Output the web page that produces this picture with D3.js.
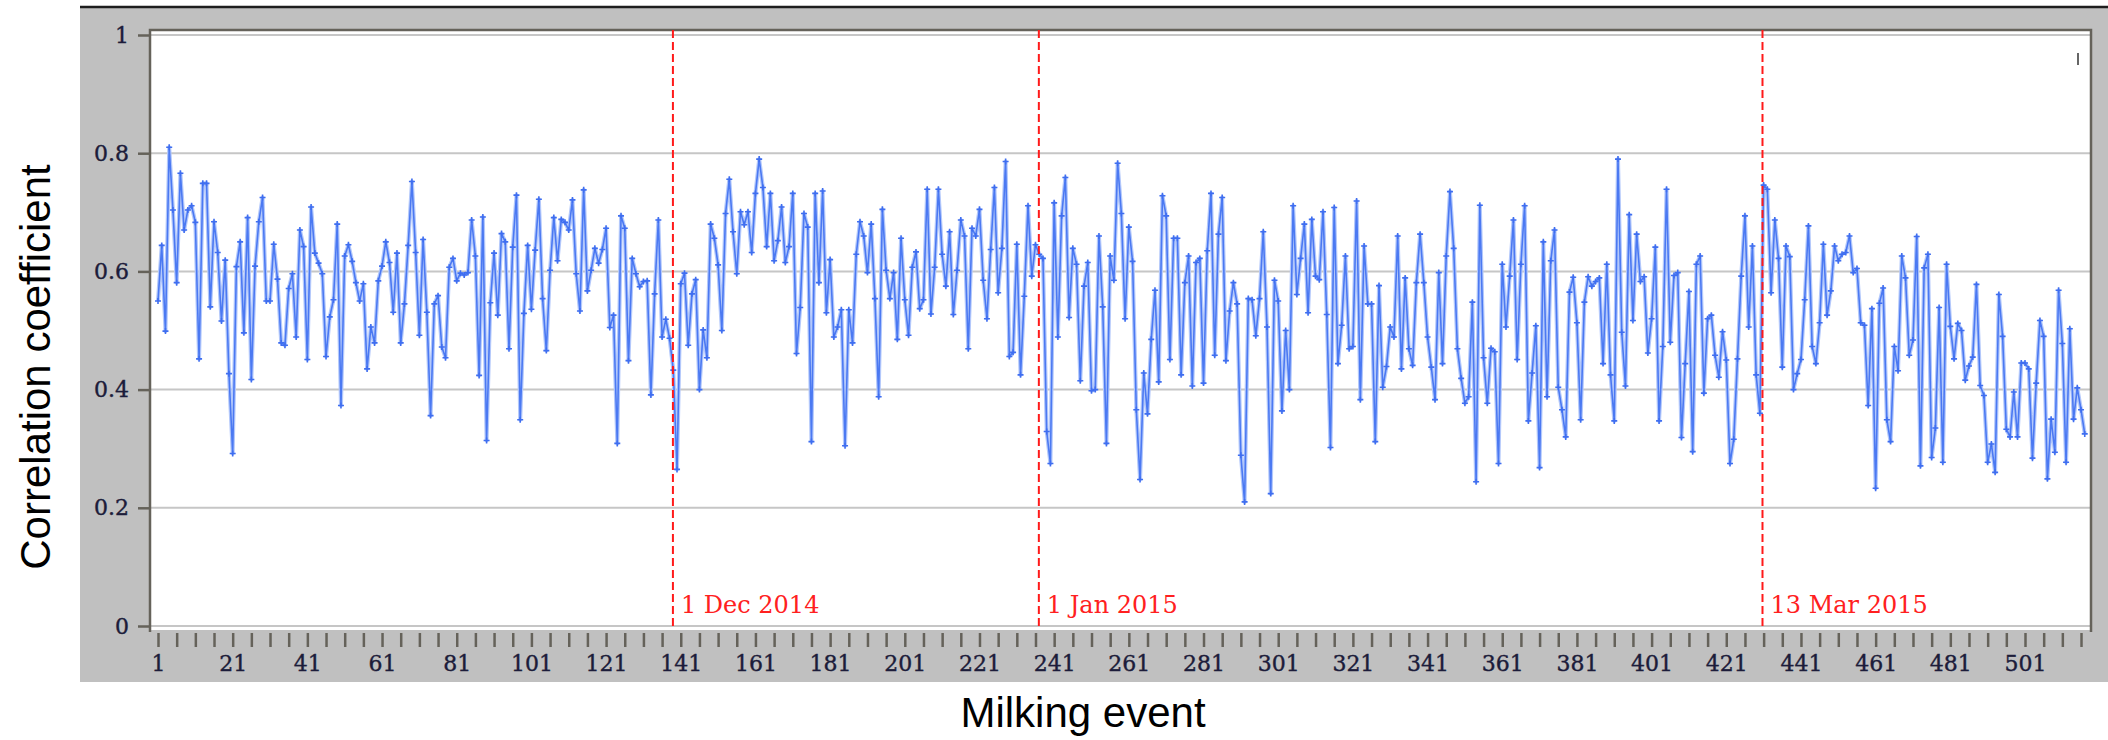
<!DOCTYPE html>
<meta charset="utf-8">
<style>
body { margin: 0; background: #fff; }
svg { display: block; }
.grid line { stroke: #c6c6c6; stroke-width: 2px; }
.axis text { font-family: "DejaVu Serif", serif; font-size: 22px; fill: #1c1c3a; stroke: #1c1c3a; stroke-width: 0.4px; }
.axis line { stroke: #65625a; stroke-width: 2.5px; }
.axis path { display: none; }
.axis-title { font-family: "Liberation Sans", Arial, sans-serif; font-size: 42px; fill: #000; }
.event-lbl { font-family: "DejaVu Serif", serif; font-size: 24px; fill: #ff2020; }
</style>
<svg width="2108" height="740"></svg>
<script src="https://d3js.org/d3.v7.min.js"></script>
<script>
// correlation coefficient per milking event in blocks
var corr001 = [0.550,0.644,0.499,0.810,0.704,0.581,0.766,0.670,0.704,0.711,0.683,0.452,0.749,0.749,0.540,0.684,0.632,0.516,0.619,0.427,0.292,0.608,0.650,0.496,0.691,0.417,0.609,0.684,0.725,0.550,0.550,0.646,0.587,0.479,0.475,0.571,0.596,0.489,0.670,0.642,0.451,0.709,0.631,0.614,0.596,0.456,0.523,0.552,0.680,0.373,0.626,0.645];
var corr053 = [0.617,0.581,0.550,0.579,0.435,0.506,0.479,0.584,0.609,0.650,0.615,0.531,0.631,0.479,0.545,0.644,0.752,0.632,0.492,0.654,0.531,0.356,0.545,0.559,0.472,0.454,0.607,0.622,0.584,0.597,0.594,0.598,0.687,0.626,0.424,0.692,0.314,0.547,0.631,0.526,0.664,0.650,0.469,0.641,0.729,0.349,0.529,0.644,0.536,0.636,0.722];
var corr104 = [0.554,0.466,0.602,0.691,0.618,0.688,0.683,0.670,0.721,0.596,0.533,0.738,0.567,0.602,0.639,0.614,0.637,0.673,0.505,0.526,0.309,0.694,0.673,0.449,0.622,0.596,0.574,0.583,0.584,0.391,0.562,0.687,0.489,0.519,0.487,0.433,0.265,0.579,0.597,0.475,0.562,0.586,0.400,0.501,0.454,0.680,0.656,0.611,0.500,0.698,0.756,0.667,0.596];
var corr157 = [0.701,0.679,0.701,0.632,0.732,0.790,0.742,0.642,0.732,0.618,0.652,0.709,0.615,0.642,0.732,0.461,0.539,0.698,0.675,0.312,0.732,0.581,0.736,0.530,0.620,0.489,0.506,0.535,0.305,0.535,0.479,0.629,0.684,0.660,0.598,0.680,0.554,0.388,0.705,0.602,0.554,0.598,0.485,0.656,0.552,0.492,0.607,0.633,0.537,0.552,0.739,0.528,0.607];
var corr210 = [0.739,0.629,0.575,0.667,0.527,0.602,0.687,0.660,0.469,0.673,0.660,0.705,0.585,0.520,0.637,0.742,0.564,0.639,0.786,0.456,0.463,0.646,0.425,0.558,0.711,0.592,0.645,0.629,0.622,0.329,0.275,0.716,0.489,0.694,0.759,0.522,0.639,0.612,0.415,0.575,0.615,0.398,0.400,0.660,0.540,0.309,0.626,0.585,0.783,0.698,0.520,0.675];
var corr262 = [0.617,0.366,0.248,0.428,0.359,0.485,0.568,0.413,0.728,0.694,0.451,0.656,0.656,0.425,0.581,0.626,0.406,0.615,0.622,0.411,0.635,0.732,0.458,0.663,0.725,0.449,0.533,0.581,0.545,0.289,0.210,0.554,0.552,0.491,0.554,0.667,0.506,0.224,0.585,0.550,0.364,0.500,0.400,0.711,0.561,0.622,0.680,0.530,0.688,0.592,0.586,0.701];
var corr314 = [0.527,0.302,0.708,0.444,0.509,0.626,0.469,0.473,0.719,0.383,0.643,0.545,0.545,0.312,0.576,0.404,0.439,0.506,0.489,0.660,0.435,0.589,0.469,0.441,0.581,0.663,0.581,0.489,0.438,0.383,0.598,0.444,0.626,0.735,0.639,0.469,0.419,0.377,0.388,0.548,0.244,0.712,0.454,0.377,0.470,0.464,0.275,0.612,0.506,0.592,0.687,0.451];
var corr366 = [0.612,0.711,0.347,0.428,0.508,0.268,0.650,0.388,0.618,0.670,0.404,0.366,0.320,0.565,0.590,0.513,0.349,0.548,0.591,0.575,0.583,0.589,0.444,0.612,0.425,0.347,0.790,0.497,0.406,0.696,0.517,0.663,0.583,0.591,0.462,0.520,0.641,0.347,0.473,0.739,0.480,0.593,0.598,0.319,0.444,0.566,0.295,0.612,0.626,0.394,0.520,0.526,0.458];
var corr419 = [0.421,0.498,0.450,0.275,0.316,0.452,0.592,0.694,0.506,0.643,0.425,0.360,0.746,0.739,0.564,0.687,0.622,0.438,0.643,0.625,0.400,0.427,0.451,0.552,0.677,0.473,0.444,0.513,0.646,0.526,0.567,0.643,0.618,0.629,0.632,0.660,0.598,0.605,0.513,0.509,0.373,0.537,0.233,0.546,0.572,0.349,0.312,0.473,0.432,0.626,0.589,0.458];
var corr471 = [0.484,0.659,0.271,0.606,0.629,0.285,0.335,0.539,0.277,0.612,0.507,0.452,0.512,0.500,0.416,0.440,0.455,0.578,0.407,0.390,0.277,0.308,0.260,0.561,0.490,0.333,0.320,0.396,0.320,0.445,0.445,0.435,0.284,0.411,0.517,0.490,0.249,0.350,0.294,0.568,0.478,0.277,0.503,0.350,0.403,0.366,0.325];

// dates marked with red dashed lines (position in milking events)
var markEvents = [138.9, 236.9, 430.7];
var markLabels = ["1 Dec 2014", "1 Jan 2015", "13 Mar 2015"];

// axis ticks
var yTicks = [0, 0.2, 0.4, 0.6, 0.8, 1];
var yTickLabels = ["0", "0.2", "0.4", "0.6", "0.8", "1"];
var xTicks = d3.range(1, 517, 5);

var values = [].concat(corr001, corr053, corr104, corr157, corr210, corr262, corr314, corr366, corr419, corr471);
var data = values.map(function(v, i) { return { event: i + 1, value: v }; });

var svg = d3.select("svg");

// plot box
var box = { left: 150, right: 2091, top: 30, bottom: 630 };

var x = d3.scaleLinear().domain([1, 501]).range([158, 2025]);
var y = d3.scaleLinear().domain([0, 1]).range([626, 35]);

// grey panel behind everything
svg.append("rect")
    .attr("x", 80).attr("y", 6)
    .attr("width", 2108 - 80).attr("height", 676)
    .attr("fill", "#c0c0c0");
svg.append("line")
    .attr("x1", 80).attr("x2", 2108)
    .attr("y1", 7).attr("y2", 7)
    .attr("stroke", "#1e1e1e").attr("stroke-width", 2.5);

// white plot area
svg.append("rect")
    .attr("x", box.left).attr("y", box.top)
    .attr("width", box.right - box.left).attr("height", box.bottom - box.top)
    .attr("fill", "#fff");

// gridlines
svg.append("g")
    .attr("class", "grid")
  .selectAll("line")
    .data(yTicks)
  .enter().append("line")
    .attr("x1", box.left).attr("x2", box.right)
    .attr("y1", function(d) { return y(d); })
    .attr("y2", function(d) { return y(d); });

// frame (left, top, right)
svg.append("path")
    .attr("d", "M" + box.left + "," + (box.bottom + 2) + "V" + box.top + "H" + box.right + "V" + (box.bottom + 2))
    .attr("fill", "none")
    .attr("stroke", "#65625a")
    .attr("stroke-width", 2.5);

// axes
svg.append("g")
    .attr("class", "axis")
    .attr("transform", "translate(" + box.left + ",0)")
    .call(d3.axisLeft(y)
        .tickValues(yTicks)
        .tickFormat(function(d, i) { return yTickLabels[i]; })
        .tickSize(12)
        .tickPadding(9));

svg.append("g")
    .attr("class", "axis")
    .attr("transform", "translate(0," + (box.bottom + 3) + ")")
    .call(d3.axisBottom(x)
        .tickValues(xTicks)
        .tickFormat(function(d) { return (d - 1) % 20 === 0 ? d : ""; })
        .tickSize(14)
        .tickPadding(8));

// the series
var line = d3.line()
    .x(function(d) { return x(d.event); })
    .y(function(d) { return y(d.value); });

svg.append("path")
    .datum(data)
    .attr("fill", "none")
    .attr("stroke", "#b3c8fb")
    .attr("stroke-width", 4)
    .attr("stroke-linejoin", "round")
    .attr("d", line);

svg.append("path")
    .datum(data)
    .attr("fill", "none")
    .attr("stroke", "#4b79f2")
    .attr("stroke-width", 1.6)
    .attr("stroke-linejoin", "round")
    .attr("d", line);

svg.append("g")
  .selectAll("path")
    .data(data)
  .enter().append("path")
    .attr("transform", function(d) { return "translate(" + x(d.event) + "," + y(d.value) + ")"; })
    .attr("d", "M-3,0H3M0,-3V3")
    .attr("stroke", "#3f6ef0")
    .attr("stroke-width", 1.6);

// date markers
var marks = svg.append("g")
  .selectAll("g")
    .data(markEvents)
  .enter().append("g");

marks.append("line")
    .attr("x1", function(d) { return x(d); })
    .attr("x2", function(d) { return x(d); })
    .attr("y1", box.top).attr("y2", box.bottom)
    .attr("stroke", "#ff1a1a")
    .attr("stroke-width", 2)
    .attr("stroke-dasharray", "8,4");

marks.append("text")
    .attr("class", "event-lbl")
    .attr("x", function(d) { return x(d) + 8; })
    .attr("y", 613)
    .text(function(d, i) { return markLabels[i]; });

// small stray mark in the top right corner
svg.append("line")
    .attr("x1", 2078).attr("x2", 2078)
    .attr("y1", 53).attr("y2", 65)
    .attr("stroke", "#333").attr("stroke-width", 1.5);

// axis titles
svg.append("text")
    .attr("class", "axis-title")
    .attr("transform", "translate(50,367) rotate(-90)")
    .attr("text-anchor", "middle")
    .text("Correlation coefficient");

svg.append("text")
    .attr("class", "axis-title")
    .attr("x", 1083).attr("y", 727)
    .attr("text-anchor", "middle")
    .text("Milking event");
</script>
